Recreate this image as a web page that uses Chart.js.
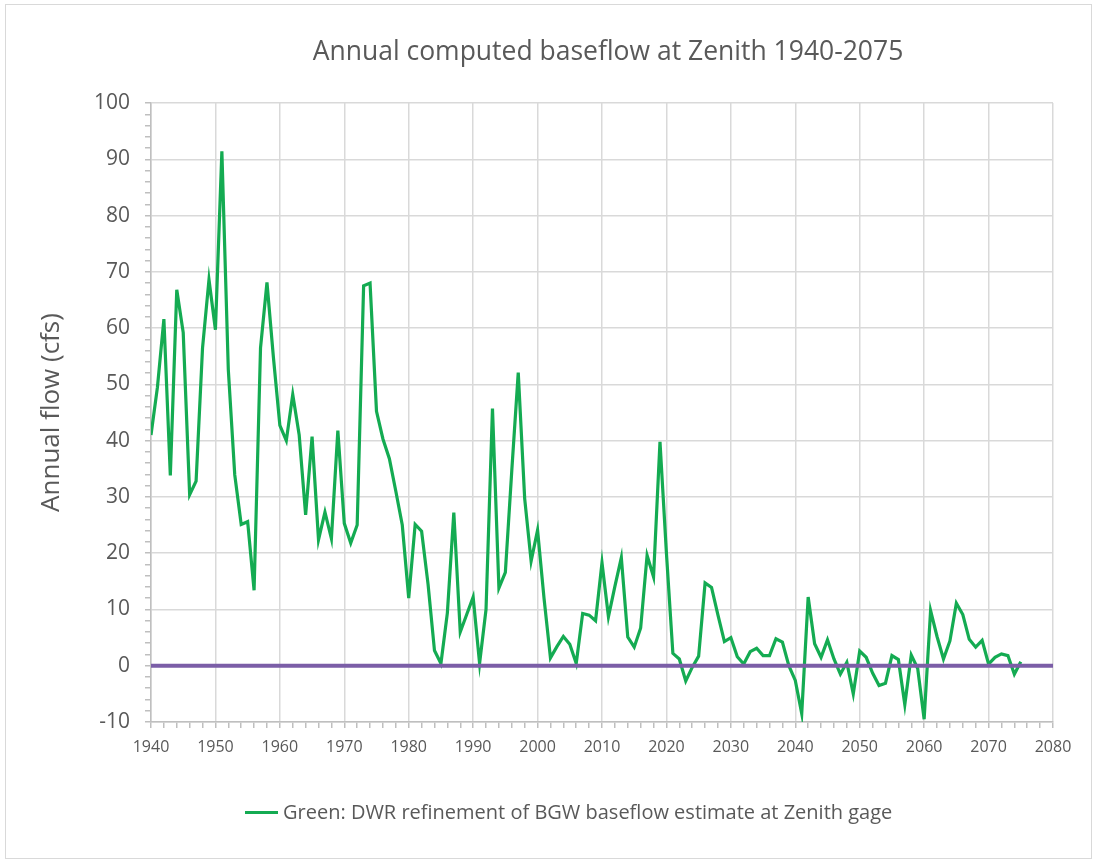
<!DOCTYPE html>
<html>
<head>
<meta charset="utf-8">
<title>Annual computed baseflow at Zenith 1940-2075</title>
<script src="https://cdn.jsdelivr.net/npm/chart.js@4.4.1/dist/chart.umd.min.js"></script>
<style>
  html, body { margin: 0; padding: 0; background: #fff; }
  #wrap { position: relative; width: 1095px; height: 862px; font-family: 'Open Sans', sans-serif; color: #595959; }
  #frame { position: absolute; left: 5px; top: 4px; right: 3px; bottom: 3px;
           border: 1px solid #d9d9d9; pointer-events: none; }
  #title { position: absolute; left: 163px; width: 890px; top: 34px; line-height: 32px;
           font-size: 26.5px; text-align: center; white-space: nowrap; }
  #legend { position: absolute; left: 245px; top: 797px; line-height: 30px; font-size: 20px; white-space: nowrap; }
  #legend .swatch { display: inline-block; width: 33px; height: 3px; background: #14ab52;
                    vertical-align: middle; margin-right: 5px; position: relative; top: -1px; }
</style>
</head>
<body>
<div id="wrap">
  <canvas id="chart" width="1095" height="862"></canvas>
  <div id="title">Annual computed baseflow at Zenith 1940-2075</div>
  <div id="legend"></div>
  <div id="frame"></div>
</div>
<script>
// annual flow (cfs), one value per year starting 1940
const startYear = 1940;
const flow = [
  41.0, 49.5, 61.6, 33.8, 66.8, 59.2, 30.4, 32.8, 56.5, 68.6,   // 1940s
  59.7, 91.4, 52.6, 33.9, 25.1, 25.6, 13.4, 56.5, 68.1, 54.8,   // 1950s
  42.7, 40.0, 48.2, 41.0, 26.8, 40.7, 22.4, 27.3, 22.6, 41.8,   // 1960s
  25.3, 21.8, 25.0, 67.5, 68.0, 45.2, 40.3, 36.8, 31.0, 25.0,   // 1970s
  12.0, 25.1, 23.9, 14.5, 2.7, 0.4, 9.4, 27.2, 6.0, 9.1,        // 1980s
  12.2, 0.4, 10.0, 45.7, 13.8, 16.6, 34.7, 52.1, 29.7, 18.6,    // 1990s
  24.1, 12.0, 1.4, 3.4, 5.2, 3.8, 0.4, 9.3, 9.0, 8.0,           // 2000s
  18.3, 8.7, 14.1, 19.2, 5.1, 3.3, 6.7, 19.6, 15.8, 39.8,       // 2010s
  20.0, 2.2, 1.2, -2.7, -0.3, 1.7, 14.7, 13.9, 9.0, 4.3,        // 2020s
  5.0, 1.6, 0.3, 2.5, 3.1, 1.8, 1.8, 4.8, 4.2, 0.0,             // 2030s
  -2.6, -8.5, 12.2, 3.9, 1.5, 4.6, 1.2, -1.5, 0.6, -5.0,        // 2040s
  2.6, 1.5, -1.3, -3.5, -3.1, 1.8, 1.1, -6.9, 1.9, -0.5,        // 2050s
  -9.5, 9.8, 5.2, 1.2, 4.4, 11.1, 9.1, 4.7, 3.3, 4.5,           // 2060s
  0.3, 1.5, 2.1, 1.8, -1.5, 0.7                                 // 2070s
];
const years = flow.map((v, i) => startYear + i);
const seriesName = 'Green: DWR refinement of BGW baseflow estimate at Zenith gage';

// zero reference line
const zeroYears = [1940, 2080];
const zeroFlow = [0, 0];

const xTicks = { min: 1940, max: 2080, step: 10, minor: 2 };
const yTicks = { min: -10, max: 100, step: 10, minor: 2 };

const textColor = '#595959';
const gridColor = '#d9d9d9';
const axisColor = '#bfbfbf';
const isMajor = (v, step) => Math.abs(v % step) < 1e-6;

document.querySelector('#legend').innerHTML = '<span class="swatch"></span>' + seriesName;

new Chart(document.querySelector('#chart').getContext('2d'), {
  type: 'line',
  data: {
    datasets: [
      {
        label: seriesName,
        data: years.map((y, i) => ({ x: y, y: flow[i] })),
        borderColor: '#14ab52',
        borderWidth: 3.2,
        pointRadius: 0,
        tension: 0,
        order: 2
      },
      {
        label: 'zero',
        data: zeroYears.map((y, i) => ({ x: y, y: zeroFlow[i] })),
        borderColor: '#7b5ea7',
        borderWidth: 4,
        pointRadius: 0,
        order: 1
      }
    ]
  },
  options: {
    responsive: false,
    animation: false,
    devicePixelRatio: 1,
    layout: { padding: { top: 103, left: 5, right: 42, bottom: 68 } },
    plugins: {
      legend: { display: false },
      tooltip: { enabled: false }
    },
    scales: {
      x: {
        type: 'linear',
        min: xTicks.min,
        max: xTicks.max,
        afterFit: (scale) => { scale.height = 72; },
        ticks: {
          stepSize: xTicks.minor,
          maxTicksLimit: 200,
          autoSkip: false,
          maxRotation: 0,
          padding: 10,
          color: textColor,
          font: { family: 'Open Sans', size: 16 },
          callback: (v) => isMajor(v, xTicks.step) ? String(v) : ''
        },
        grid: {
          color: (ctx) => isMajor(ctx.tick.value, xTicks.step) ? gridColor : 'rgba(0,0,0,0)',
          lineWidth: 1.5,
          tickColor: axisColor,
          tickLength: 6
        },
        border: { color: axisColor, width: 1.5 }
      },
      y: {
        min: yTicks.min,
        max: yTicks.max,
        afterFit: (scale) => { scale.width = 146; },
        title: {
          display: true,
          text: 'Annual flow (cfs)',
          color: textColor,
          font: { family: 'Open Sans', size: 26 },
          padding: { top: 31, bottom: 0 }
        },
        ticks: {
          stepSize: yTicks.minor,
          maxTicksLimit: 200,
          autoSkip: false,
          padding: 15,
          color: textColor,
          font: { family: 'Open Sans', size: 21 },
          callback: (v) => isMajor(v, yTicks.step) ? String(v) : ''
        },
        grid: {
          color: (ctx) => isMajor(ctx.tick.value, yTicks.step) ? gridColor : 'rgba(0,0,0,0)',
          lineWidth: 1.5,
          tickColor: axisColor,
          tickLength: 6
        },
        border: { color: axisColor, width: 1.5 }
      }
    }
  }
});
</script>
</body>
</html>
